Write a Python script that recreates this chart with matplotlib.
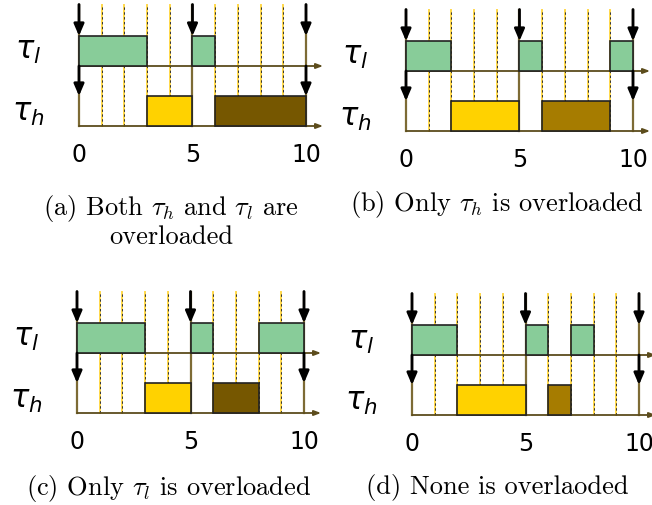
import matplotlib.pyplot as plt
from matplotlib.patches import Rectangle

plt.rcParams['mathtext.fontset'] = 'cm'

# job intervals per panel (start, end) in time units
low_jobs = [
    [(0, 3), (5, 6)],
    [(0, 2), (5, 6), (9, 10)],
    [(0, 3), (5, 6), (8, 10)],
    [(0, 2), (5, 6), (7, 8)],
]
high_first = [(3, 5), (2, 5), (3, 5), (2, 5)]
high_second = [(6, 10), (6, 9), (6, 8), (6, 7)]
second_colors = ['#765700', '#a67c00', '#765700', '#a67c00']
captions = [
    r'(a) Both $\tau_h$ and $\tau_l$ are' + '\noverloaded',
    r'(b) Only $\tau_h$ is overloaded',
    r'(c) Only $\tau_l$ is overloaded',
    '(d) None is overlaoded',
]
caption_pos = [(4.05, -3.13), (4.0, -2.43), (4.05, -2.47), (3.74, -2.4)]
ticks = [0, 5, 10]
low_release = [0, 5, 10]
high_release = [0, 10]

# pixel origin of each panel: (x of t=0, y of tau_h baseline)
origins = [(79, 127), (406, 132), (77, 414), (412, 416)]

W, H = 652, 506
sx, sy = 22.7, 30.0
xmin, xmax, ymin, ymax = -3.0, 11.2, -3.9, 4.3

fig = plt.figure(figsize=(W / 100, H / 100), dpi=100)

green = '#88cc99'
yellow = '#ffd200'
olive = '#7d6b35'
line_col = '#5c4c1c'
top_y = 4.05

for i, (x0, b0) in enumerate(origins):
    left = (x0 + xmin * sx) / W
    bottom = 1 - (b0 - ymin * sy) / H
    ax = fig.add_axes([left, bottom, (xmax - xmin) * sx / W, (ymax - ymin) * sy / H])
    ax.set_xlim(xmin, xmax)
    ax.set_ylim(ymin, ymax)
    ax.axis('off')

    # grid lines
    for t in range(11):
        if t in ticks:
            ax.plot([t, t], [0, top_y], color=olive, lw=1.6, zorder=1)
        else:
            ax.plot([t, t], [0, top_y], color='#ffd84a', lw=1.4, zorder=1)
            ax.plot([t, t], [0, top_y], color='#333333', lw=0.7, ls=(0, (2.5, 2.5)), zorder=1.1)

    # time axes
    for yb in [0, 2]:
        ax.annotate('', xy=(10.75, yb), xytext=(0, yb),
                    arrowprops=dict(arrowstyle='-|>,head_length=0.4,head_width=0.15',
                                    color=line_col, lw=1.3, shrinkA=0, shrinkB=0), zorder=2)

    # boxes
    for s, e in low_jobs[i]:
        ax.add_patch(Rectangle((s, 2), e - s, 1, facecolor=green, edgecolor='#222222', lw=1.2, zorder=3))
    s, e = high_first[i]
    ax.add_patch(Rectangle((s, 0), e - s, 1, facecolor=yellow, edgecolor='#222222', lw=1.2, zorder=3))
    s, e = high_second[i]
    ax.add_patch(Rectangle((s, 0), e - s, 1, facecolor=second_colors[i], edgecolor='#222222', lw=1.2, zorder=3))

    # release arrows
    for t in low_release:
        ax.annotate('', xy=(t, 3), xytext=(t, top_y),
                    arrowprops=dict(arrowstyle='-|>,head_length=0.7,head_width=0.3',
                                    color='black', lw=2, shrinkA=0, shrinkB=0), zorder=4)
    for t in high_release:
        ax.annotate('', xy=(t, 1), xytext=(t, 2),
                    arrowprops=dict(arrowstyle='-|>,head_length=0.7,head_width=0.3',
                                    color='black', lw=2, shrinkA=0, shrinkB=0), zorder=4)

    # labels
    ax.text(-2.25, 2.5, r'$\tau_l$', fontsize=22, ha='center', va='center',
            math_fontfamily='dejavusans')
    ax.text(-2.25, 0.45, r'$\tau_h$', fontsize=22, ha='center', va='center',
            math_fontfamily='dejavusans')
    for t in ticks:
        ax.text(t, -0.93, str(t), fontsize=17, ha='center', va='center')

    cx, cy = caption_pos[i]
    ax.text(cx, cy, captions[i], fontsize=19, ha='center', va='center',
            family='cmr10', linespacing=1.1)

fig.savefig('out.png', dpi=100)
